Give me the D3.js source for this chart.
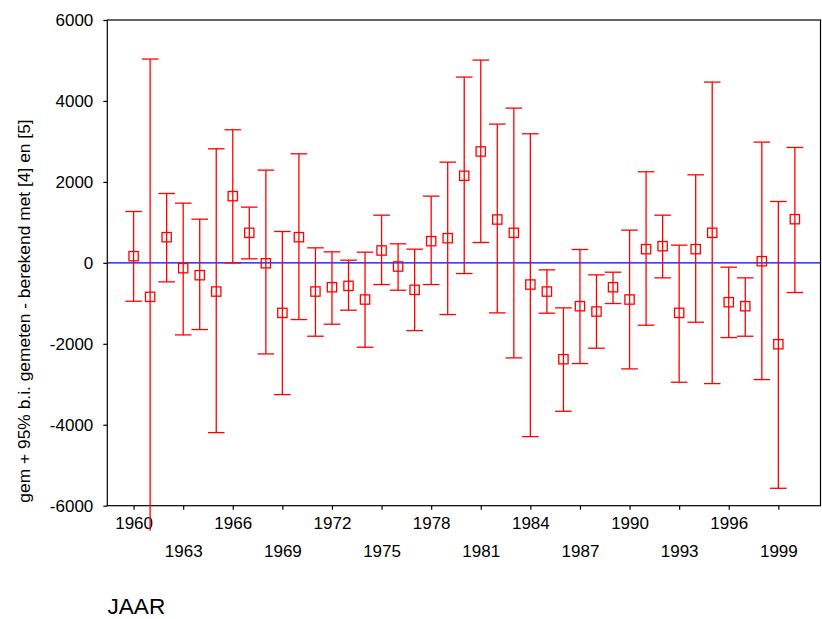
<!DOCTYPE html>
<html>
<head>
<meta charset="utf-8">
<script src="https://cdn.jsdelivr.net/npm/d3@7"></script>
<style>
  body { margin: 0; background: #fff; }
  svg text { font-family: "Liberation Sans", Arial, sans-serif; fill: #000; }
</style>
</head>
<body>
<div id="chart"></div>
<script>
// jaren 1960 - 2000
const years = d3.range(1960, 2001);

// gemiddelde (gemeten - berekend) per jaar
const means = [
  165, -840, 634, -132, -305, -709, 1648, 742, -10, -1236,
  634, -709, -602, -569, -906, 305, -91, -667, 536, 610,
  2151, 2752, 1071, 742, -536, -709, -2381, -1071, -1203, -602,
  -906, 338, 412, -1236, 338, 742, -972, -1071, 41, -2011,
  1079
];

// onderkant 95% b.i.
const lower = [
  -948, -6620, -470, -1780, -1648, -4194, 0, 99, -2250, -3255,
  -1401, -1813, -1516, -1170, -2085, -536, -676, -1673, -536, -1277,
  -264, 503, -1236, -2348, -4293, -1244, -3667, -2488, -2109, -1005,
  -2620, -1541, -371, -2950, -1467, -2983, -1846, -1813, -2884, -5570,
  -733
];

// bovenkant 95% b.i.
const upper = [
  1269, 5035, 1714, 1475, 1079, 2818, 3288, 1376, 2291, 775,
  2694, 371, 272, 66, 264, 1178, 470, 338, 1648, 2488,
  4590, 5010, 3428, 3823, 3189, -173, -1112, 330, -297, -231,
  808, 2250, 1178, 437, 2175, 4466, -107, -371, 2983, 1516,
  2851
];

const xTicks = d3.range(1960, 2000, 3);
const yTicks = [-6000, -4000, -2000, 0, 2000, 4000, 6000];

const width = 822;
const height = 619;
const margin = { top: 20, right: 1.5, bottom: 113.3, left: 107.3 };
const innerW = width - margin.left - margin.right;
const innerH = height - margin.top - margin.bottom;

const svg = d3.select("#chart").append("svg")
  .attr("width", width)
  .attr("height", height);

const g = svg.append("g")
  .attr("transform", "translate(" + margin.left + "," + margin.top + ")");

const x = d3.scaleLinear().domain([1958.41, 2001.55]).range([0, innerW]);
const y = d3.scaleLinear().domain([-6000, 6000]).range([innerH, 0]);

// frame
g.append("rect")
  .attr("x", 0)
  .attr("y", 0)
  .attr("width", innerW)
  .attr("height", innerH)
  .attr("fill", "none")
  .attr("stroke", "#000")
  .attr("stroke-width", 1.2);

// zero line
g.append("line")
  .attr("x1", 0)
  .attr("x2", innerW)
  .attr("y1", y(0))
  .attr("y2", y(0))
  .attr("stroke", "#0000ff")
  .attr("stroke-width", 1.2);

// ****************** axes ***************************

// plain numbers, hyphen for minus (no thousands separator)
const plain = (d) => String(d);

const xAxis = g.append("g")
  .attr("transform", "translate(0," + innerH + ")")
  .call(d3.axisBottom(x)
    .tickValues(xTicks)
    .tickSize(4)
    .tickSizeOuter(0)
    .tickFormat(plain));

xAxis.select(".domain").remove();
xAxis.selectAll("line").attr("stroke", "#000").attr("stroke-width", 1.2);
xAxis.selectAll("text")
  .attr("font-size", 17)
  .attr("dy", 0)
  .attr("y", (d, i) => i % 2 ? 51.6 : 23.6);

const yAxis = g.append("g")
  .call(d3.axisLeft(y)
    .tickValues(yTicks)
    .tickSize(4)
    .tickPadding(10)
    .tickSizeOuter(0)
    .tickFormat(plain));

yAxis.select(".domain").remove();
yAxis.selectAll("line").attr("stroke", "#000").attr("stroke-width", 1.2);
yAxis.selectAll("text").attr("font-size", 17);

// axis titles
svg.append("text")
  .attr("transform", "translate(29.5," + 311 + ") rotate(-90)")
  .attr("text-anchor", "middle")
  .attr("font-size", 17.4)
  .text("gem + 95% b.i. gemeten - berekend met [4] en [5]");

svg.append("text")
  .attr("x", 107.5)
  .attr("y", 614)
  .attr("font-size", 22.6)
  .text("JAAR");

// ****************** error bars ***************************

const rows = years.map((yr, i) => ({ year: yr, mean: means[i], lo: lower[i], hi: upper[i] }));
const capHalf = 8.3;
const box = 9.3;

const bars = g.selectAll("g.bar")
  .data(rows)
  .enter()
  .append("g")
  .attr("class", "bar")
  .attr("stroke", "#ff0000")
  .attr("stroke-width", 1.3)
  .attr("fill", "none");

bars.append("line")
  .attr("x1", d => x(d.year))
  .attr("x2", d => x(d.year))
  .attr("y1", d => y(d.hi))
  .attr("y2", d => y(d.lo));

// caps (skip the ones outside the value range)
bars.filter(d => d.hi <= 6000).append("line")
  .attr("x1", d => x(d.year) - capHalf)
  .attr("x2", d => x(d.year) + capHalf)
  .attr("y1", d => y(d.hi))
  .attr("y2", d => y(d.hi));

bars.filter(d => d.lo >= -6000).append("line")
  .attr("x1", d => x(d.year) - capHalf)
  .attr("x2", d => x(d.year) + capHalf)
  .attr("y1", d => y(d.lo))
  .attr("y2", d => y(d.lo));

bars.append("rect")
  .attr("x", d => x(d.year) - box / 2)
  .attr("y", d => y(d.mean) - box / 2)
  .attr("width", box)
  .attr("height", box);
</script>
</body>
</html>
